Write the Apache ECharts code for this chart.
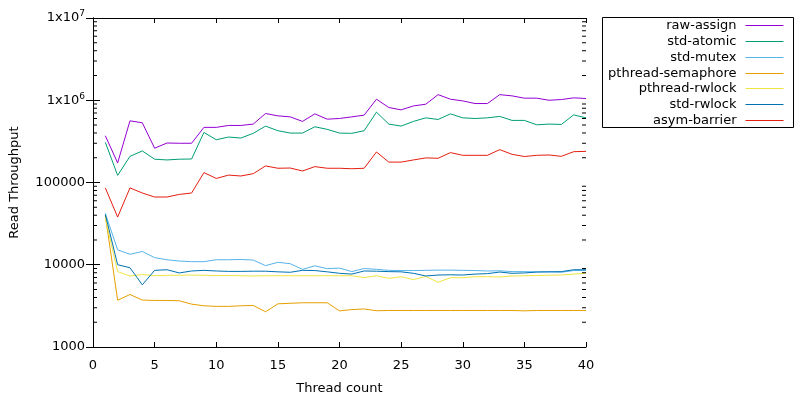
<!DOCTYPE html>
<html>
<head>
<meta charset="utf-8">
<script src="https://cdn.jsdelivr.net/npm/echarts@6/dist/echarts.min.js"></script>
<style>
html,body{margin:0;padding:0;background:#fff;}
#chart{width:800px;height:400px;}
</style>
</head>
<body>
<div id="chart"></div>
<script>
const threads = [1,2,3,4,5,6,7,8,9,10,11,12,13,14,15,16,17,18,19,20,21,22,23,24,25,26,27,28,29,30,31,32,33,34,35,36,37,38,39,40];

const seriesNames = ['raw-assign','std-atomic','std-mutex','pthread-semaphore','pthread-rwlock','std-rwlock','asym-barrier'];

const rawAssign = [370000,173000,562000,532000,261000,302000,300000,300000,468000,468000,494000,494000,513000,690000,646000,628000,553000,683000,589000,600000,628000,659000,1030000,816000,764000,853000,895000,1170000,1030000,981000,912000,912000,1170000,1130000,1060000,1060000,1000000,1020000,1070000,1050000];
const stdAtomic = [308000,122000,208000,242000,192000,188000,192000,193000,406000,331000,357000,347000,396000,485000,426000,399000,399000,476000,443000,399000,396000,426000,716000,513000,485000,553000,611000,584000,683000,611000,600000,611000,636000,569000,569000,503000,513000,508000,664000,611000];
const stdMutex = [42000,15200,13400,14500,12200,11500,11100,10900,10900,11500,11500,11600,11400,9750,10700,10300,8800,9700,8970,9100,8250,9000,8800,8550,8500,8500,8550,8600,8600,8550,8500,8400,8450,8250,8250,8200,8200,8100,8500,8500];
const pthreadSemaphore = [40000,3700,4350,3720,3680,3680,3650,3320,3170,3120,3120,3170,3200,2680,3350,3400,3450,3450,3450,2750,2850,2900,2760,2780,2780,2780,2780,2780,2780,2780,2780,2780,2780,2780,2750,2780,2780,2780,2780,2780];
const pthreadRwlock = [37000,8250,7300,7600,7350,7450,7450,7500,7450,7400,7400,7350,7300,7350,7350,7350,7350,7350,7350,7350,7350,6980,7350,6850,7150,6600,7200,6120,6950,6950,7150,7150,7100,7300,7350,7400,7450,7500,7700,7870];
const stdRwlock = [41000,10000,9200,5700,8550,8700,7950,8400,8550,8400,8300,8300,8350,8350,8200,8100,8550,8500,8200,7870,7700,8400,8350,8250,8200,7870,7300,7500,7550,7500,7700,7800,8150,7870,7950,8150,8200,8250,8700,8700];
const asymBarrier = [86000,38000,86000,74500,66600,66600,71600,74500,132000,112000,123000,120000,128000,159000,149000,150000,138000,156000,149000,149000,147000,149000,235000,177000,177000,188000,199000,197000,231000,214000,214000,214000,251000,220000,207000,214000,216000,208000,237000,239000];

const seriesValues = [rawAssign, stdAtomic, stdMutex, pthreadSemaphore, pthreadRwlock, stdRwlock, asymBarrier];
const seriesColors = ['#9400d3','#009e73','#56b4e9','#e69f00','#f0e442','#0072b2','#e51e10'];

const yMinorTicks = [2000,3000,4000,5000,6000,7000,8000,9000,20000,30000,40000,50000,60000,70000,80000,90000,200000,300000,400000,500000,600000,700000,800000,900000,2000000,3000000,4000000,5000000,6000000,7000000,8000000,9000000];

const FONT = 'DejaVu Sans';
const chart = echarts.init(document.getElementById('chart'), null, {renderer:'canvas'});

const lineSeries = seriesNames.map((name, i) => ({
  name: name,
  type: 'line',
  data: threads.map((t, j) => [t, seriesValues[i][j]]),
  showSymbol: false,
  symbol: 'none',
  lineStyle: {width: 1, color: seriesColors[i]},
  itemStyle: {color: seriesColors[i]},
  animation: false,
  z: 3
}));

const minorSeries = {
  name: 'minorTicks',
  type: 'custom',
  silent: true,
  animation: false,
  data: yMinorTicks.map(v => [0, v]),
  renderItem: function (params, api) {
    const v = api.value(1);
    const pl = api.coord([0, v]);
    const pr = api.coord([40, v]);
    const st = {stroke: '#000', lineWidth: 1};
    return {
      type: 'group',
      children: [
        {type: 'line', shape: {x1: pl[0], y1: pl[1], x2: pl[0] + 4, y2: pl[1]}, style: st},
        {type: 'line', shape: {x1: pr[0], y1: pr[1], x2: pr[0] - 4, y2: pr[1]}, style: st}
      ]
    };
  },
  z: 4
};

const legends = seriesNames.map((name, i) => ({
  data: [{
    name: name,
    itemStyle: {opacity: 0},
    lineStyle: {color: seriesColors[i], width: 1}
  }],
  orient: 'vertical',
  right: 16,
  top: Math.round(25 + i * 15.85) - 7,
  align: 'right',
  padding: 0,
  itemWidth: 38,
  itemHeight: 13,
  selectedMode: false,
  textStyle: {fontFamily: FONT, fontSize: 13, color: '#000', padding: [0, 4, 0, 0], lineHeight: 15}
}));

function yFmt(v) {
  if (v === 10000000) return '1x10{sup|7}';
  if (v === 1000000) return '1x10{sup|6}';
  return String(v);
}

const axisLine = {show: true, lineStyle: {color: '#000', width: 1}};

chart.setOption({
  animation: false,
  backgroundColor: '#fff',
  textStyle: {fontFamily: FONT},
  grid: {left: 92, right: 214, top: 18, bottom: 51, containLabel: false},
  legend: legends,
  graphic: [{
    type: 'rect',
    shape: {x: 602.5, y: 17.5, width: 191, height: 110},
    style: {fill: 'none', stroke: '#000', lineWidth: 1},
    silent: true
  }],
  xAxis: [{
    type: 'value', min: 0, max: 40, interval: 5,
    position: 'bottom',
    name: 'Thread count', nameLocation: 'middle', nameGap: 35,
    nameTextStyle: {fontFamily: FONT, fontSize: 13, color: '#000'},
    axisLine: axisLine,
    axisTick: {show: true, inside: true, length: 5, lineStyle: {color: '#000'}},
    axisLabel: {fontFamily: FONT, fontSize: 13, color: '#000', margin: 12},
    splitLine: {show: false}
  }, {
    type: 'value', min: 0, max: 40, interval: 5,
    position: 'top',
    axisLine: axisLine,
    axisTick: {show: true, inside: true, length: 5, lineStyle: {color: '#000'}},
    axisLabel: {show: false},
    splitLine: {show: false}
  }],
  yAxis: [{
    type: 'log', logBase: 10, min: 1000, max: 10000000,
    position: 'left',
    name: 'Read Throughput', nameLocation: 'middle', nameGap: 72,
    nameTextStyle: {fontFamily: FONT, fontSize: 13, color: '#000'},
    axisLine: axisLine,
    axisTick: {show: true, inside: true, length: 7, lineStyle: {color: '#000'}},
    axisLabel: {
      fontFamily: FONT, fontSize: 13, color: '#000', margin: 8,
      formatter: yFmt,
      rich: {sup: {fontFamily: FONT, fontSize: 9, color: '#000', verticalAlign: 'top', padding: [0, 0, 8, 0]}}
    },
    splitLine: {show: false},
    minorTick: {show: false}
  }, {
    type: 'log', logBase: 10, min: 1000, max: 10000000,
    position: 'right',
    axisLine: axisLine,
    axisTick: {show: true, inside: true, length: 7, lineStyle: {color: '#000'}},
    axisLabel: {show: false},
    splitLine: {show: false}
  }],
  series: lineSeries.concat([minorSeries])
});
</script>
</body>
</html>
